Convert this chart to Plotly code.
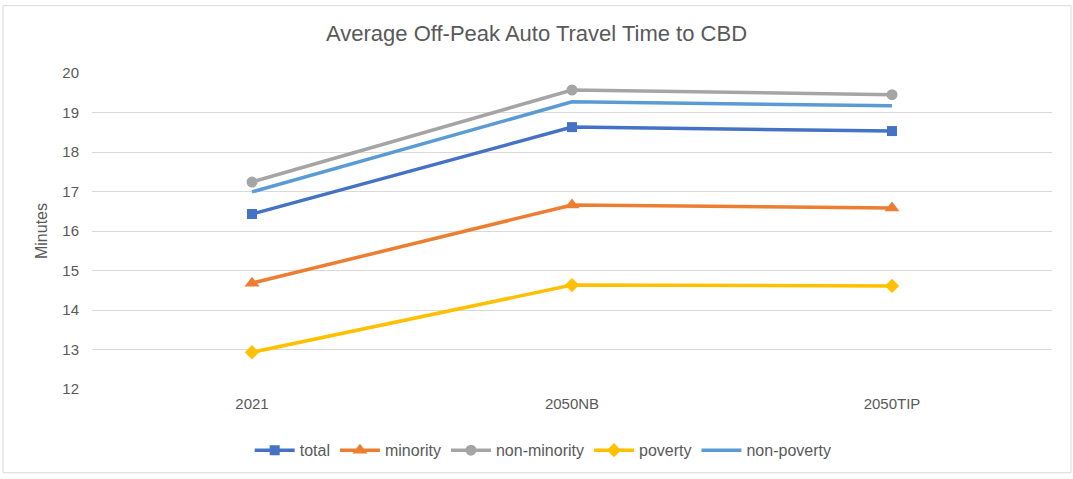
import plotly.graph_objects as go

categories = ["2021", "2050NB", "2050TIP"]
total = [16.43, 18.63, 18.53]
minority = [14.68, 16.66, 16.58]
non_minority = [17.24, 19.57, 19.45]
poverty = [12.93, 14.63, 14.61]
non_poverty = [16.99, 19.27, 19.17]

series = [
    ("total", total, "#4472C4", "square", 10),
    ("minority", minority, "#ED7D31", "triangle-up", 13),
    ("non-minority", non_minority, "#A5A5A5", "circle", 11),
    ("poverty", poverty, "#FFC000", "diamond", 11),
    ("non-poverty", non_poverty, "#5B9BD5", None, 0),
]

font_family = "Liberation Sans, Arial, sans-serif"
text_color = "#595959"

fig = go.Figure()
for name, values, color, symbol, size in series:
    fig.add_trace(
        go.Scatter(
            x=categories,
            y=values,
            name=name,
            mode="lines+markers" if symbol else "lines",
            line=dict(color=color, width=3.5),
            marker=dict(symbol=symbol or "circle", size=size, color=color),
        )
    )

fig.update_layout(
    width=1073,
    height=479,
    paper_bgcolor="white",
    plot_bgcolor="white",
    margin=dict(l=92, r=21, t=73, b=86),
    title=dict(
        text="Average Off-Peak Auto Travel Time to CBD",
        x=0.5,
        xanchor="center",
        y=0.93,
        yanchor="middle",
        font=dict(family=font_family, size=22, color=text_color),
    ),
    font=dict(family=font_family, size=15, color=text_color),
    xaxis=dict(
        showgrid=False,
        showline=False,
        zeroline=False,
        ticks="",
        range=[-0.5, 2.5],
        ticklabelstandoff=4,
    ),
    yaxis=dict(
        range=[12, 20],
        dtick=1,
        showgrid=True,
        gridcolor="#D9D9D9",
        gridwidth=1,
        zeroline=False,
        showline=False,
        ticks="",
        ticklabelstandoff=12,
        title=dict(text="Minutes", font=dict(size=16, color=text_color), standoff=10),
    ),
    legend=dict(
        orientation="h",
        x=0.47,
        xanchor="center",
        y=-0.14,
        yanchor="top",
        font=dict(size=16, color=text_color),
        itemwidth=40,
        traceorder="normal",
    ),
    shapes=[
        dict(
            type="rect",
            xref="paper",
            yref="paper",
            x0=-0.0927,
            x1=1.0198,
            y0=-0.265,
            y1=1.213,
            line=dict(color="#D9D9D9", width=1),
        )
    ],
)

fig.write_html(
    "out.html",
    config={"displayModeBar": False},
    post_script="document.body.style.margin='0';",
)
